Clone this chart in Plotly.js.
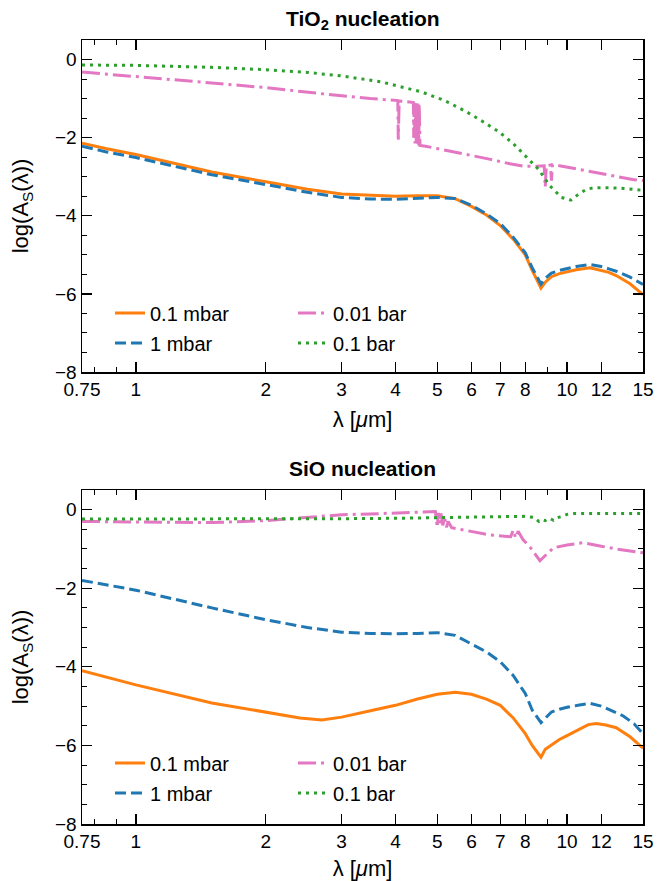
<!DOCTYPE html>
<html>
<head>
<meta charset="utf-8">
<script src="https://cdn.plot.ly/plotly-3.0.1.min.js"></script>
<style>html,body{margin:0;padding:0;background:#fff}</style>
</head>
<body>
<div id="chart" style="width:664px;height:881px"></div>
<script>
// ---------- DATA ----------
const seriesNames = ["0.1 mbar", "1 mbar", "0.01 bar", "0.1 bar"];
const xTickVals = [0.75, 1, 2, 3, 4, 5, 6, 7, 8, 10, 12, 15];
const xTickText = ["0.75", "1", "2", "3", "4", "5", "6", "7", "8", "10", "12", "15"];
const xMinorVals = [0.8, 0.9, 9];
const yTickVals = [-8, -6, -4, -2, 0];
const yTickText = ["\u22128", "\u22126", "\u22124", "\u22122", "0"];

// TiO2 nucleation
const tio2_01mbar_x = [0.75, 0.85, 1, 1.25, 1.5, 2, 2.5, 3, 3.5, 4, 4.5, 5, 5.5, 6, 6.5, 7, 7.5, 8, 8.3, 8.7, 8.9, 9.2, 9.6, 10, 10.5, 11.3, 12, 12.5, 13, 14, 15];
const tio2_01mbar_y = [-2.14, -2.28, -2.43, -2.68, -2.88, -3.13, -3.32, -3.44, -3.48, -3.5, -3.49, -3.49, -3.56, -3.76, -3.98, -4.25, -4.6, -5.0, -5.4, -5.85, -5.7, -5.56, -5.48, -5.43, -5.38, -5.33, -5.4, -5.45, -5.53, -5.74, -6.02];
const tio2_1mbar_x = [0.75, 0.85, 1, 1.25, 1.5, 2, 2.5, 3, 3.5, 4, 4.5, 5, 5.5, 6, 6.5, 7, 7.5, 8, 8.3, 8.7, 8.9, 9.2, 9.6, 10, 10.5, 11.3, 12, 12.5, 13, 14, 15];
const tio2_1mbar_y = [-2.22, -2.36, -2.51, -2.76, -2.95, -3.2, -3.4, -3.53, -3.57, -3.58, -3.56, -3.53, -3.56, -3.73, -3.95, -4.2, -4.55, -4.95, -5.33, -5.75, -5.6, -5.47, -5.4, -5.35, -5.3, -5.25, -5.3, -5.36, -5.42, -5.57, -5.76];
const tio2_001bar_x = [0.75, 1, 1.5, 2, 2.5, 3, 3.5, 4.0, 4.05, 4.06, 4.07, 4.08, 4.4, 4.41, 4.42, 4.44, 4.45, 4.47, 4.48, 4.5, 4.51, 4.53, 4.54, 4.56, 4.7, 5.2, 5.85, 6.6, 7.37, 7.92, 8.5, 8.85, 8.9, 8.95, 9.15, 9.2, 9.25, 9.6, 10.5, 11.7, 13, 14.2, 15];
const tio2_001bar_y = [-0.32, -0.43, -0.6, -0.72, -0.84, -0.93, -1.0, -1.04, -1.05, -2.05, -1.4, -1.06, -1.1, -2.0, -1.11, -2.15, -1.12, -2.1, -1.12, -2.18, -1.13, -2.2, -1.14, -2.2, -2.22, -2.32, -2.42, -2.55, -2.67, -2.73, -2.73, -2.72, -3.27, -2.72, -2.7, -3.1, -2.7, -2.72, -2.8, -2.9, -2.98, -3.07, -3.1];
const tio2_01bar_x = [0.75, 1, 1.5, 2, 2.5, 3, 3.7, 4.6, 5.2, 5.85, 6.4, 6.95, 7.5, 8.0, 8.6, 9.1, 9.7, 10.2, 10.6, 11.1, 11.6, 12.5, 13.5, 15];
const tio2_01bar_y = [-0.14, -0.15, -0.2, -0.26, -0.33, -0.42, -0.57, -0.83, -1.05, -1.34, -1.6, -1.85, -2.15, -2.47, -2.82, -3.22, -3.53, -3.6, -3.46, -3.32, -3.28, -3.28, -3.3, -3.35];

// SiO nucleation
const sio_01mbar_x = [0.75, 1, 1.5, 2, 2.4, 2.7, 3, 3.5, 4, 4.5, 5, 5.5, 6, 6.5, 7, 7.5, 8, 8.3, 8.7, 8.9, 9.2, 9.6, 10, 10.6, 11.2, 11.7, 12.3, 13, 14, 15];
const sio_01mbar_y = [-4.1, -4.46, -4.92, -5.15, -5.3, -5.35, -5.28, -5.12, -4.98, -4.82, -4.7, -4.65, -4.7, -4.82, -4.98, -5.3, -5.7, -6.0, -6.3, -6.1, -6.0, -5.85, -5.75, -5.6, -5.47, -5.44, -5.48, -5.55, -5.78, -6.07];
const sio_1mbar_x = [0.75, 1, 1.5, 2, 2.5, 3, 3.5, 4, 4.5, 5, 5.5, 6, 6.5, 7, 7.5, 8, 8.3, 8.7, 8.9, 9.2, 9.6, 10, 10.6, 11.3, 12, 12.6, 13.5, 14.3, 15];
const sio_1mbar_y = [-1.8, -2.05, -2.5, -2.8, -3.0, -3.12, -3.15, -3.16, -3.15, -3.13, -3.2, -3.42, -3.62, -3.87, -4.22, -4.68, -5.1, -5.42, -5.3, -5.15, -5.08, -5.03, -4.98, -4.93, -5.0, -5.1, -5.25, -5.45, -5.7];
const sio_001bar_x = [0.75, 1, 1.5, 2, 2.5, 3, 3.7, 4.5, 4.95, 5.0, 5.03, 5.06, 5.1, 5.15, 5.2, 5.25, 5.3, 5.4, 6.6, 7.4, 7.5, 7.6, 7.7, 7.9, 8.2, 8.65, 9.0, 9.3, 10, 10.9, 12, 13, 15];
const sio_001bar_y = [-0.3, -0.32, -0.33, -0.28, -0.2, -0.13, -0.1, -0.07, -0.05, -0.45, -0.08, -0.35, -0.1, -0.4, -0.2, -0.45, -0.3, -0.46, -0.64, -0.69, -0.52, -0.72, -0.55, -0.76, -0.95, -1.3, -1.12, -0.97, -0.9, -0.84, -0.93, -1.0, -1.1];
const sio_01bar_x = [0.75, 1, 2, 3, 4, 5, 6, 7, 8, 8.4, 8.6, 8.75, 8.9, 9.1, 9.3, 9.5, 9.7, 10.0, 10.4, 11, 12, 13, 15];
const sio_01bar_y = [-0.24, -0.24, -0.23, -0.23, -0.22, -0.2, -0.18, -0.17, -0.17, -0.2, -0.3, -0.25, -0.28, -0.22, -0.27, -0.2, -0.18, -0.12, -0.1, -0.1, -0.1, -0.1, -0.1];

// ---------- STYLES ----------
const FONT = "Liberation Sans, Arial, sans-serif";
const styles = [
  {color: "#ff7f0e", dash: "solid", width: 3},
  {color: "#1f77b4", dash: "11px,5px", width: 3},
  {color: "#e377c2", dash: "18px,5px,3px,5px", width: 3},
  {color: "#2ca02c", dash: "3px,5px", width: 3}
];
// plot area pixel geometry
const L = 82, R = 643, T = 40, B = 824;
const px = p => (p - L) / (R - L);
const py = p => (B - p) / (B - T);

const panels = [
  {xs: [tio2_01mbar_x, tio2_1mbar_x, tio2_001bar_x, tio2_01bar_x],
   ys: [tio2_01mbar_y, tio2_1mbar_y, tio2_001bar_y, tio2_01bar_y], xa: "x", ya: "y", legY: [313, 343]},
  {xs: [sio_01mbar_x, sio_1mbar_x, sio_001bar_x, sio_01bar_x],
   ys: [sio_01mbar_y, sio_1mbar_y, sio_001bar_y, sio_01bar_y], xa: "x2", ya: "y2", legY: [763, 793]}
];
// legend item pixel positions: [col x, row]
const legCols = [110, 293];
const legPos = [[0, 0], [0, 1], [1, 0], [1, 1]];

const traces = [];
const layout = {
  width: 664, height: 881,
  margin: {l: L, r: 664 - R, t: T, b: 881 - B},
  paper_bgcolor: "#fff", plot_bgcolor: "#fff",
  font: {family: FONT, size: 19, color: "#000"},
  showlegend: true,
  annotations: [
    {text: "<b>TiO<sub>2</sub> nucleation</b>", xref: "paper", yref: "paper", x: 0.5, y: py(20), xanchor: "center", yanchor: "middle", showarrow: false, font: {size: 21, family: FONT}},
    {text: "<b>SiO nucleation</b>", xref: "paper", yref: "paper", x: 0.5, y: py(469), xanchor: "center", yanchor: "middle", showarrow: false, font: {size: 21, family: FONT}}
  ]
};

let legIdx = 0;
panels.forEach((p, pi) => {
  for (let s = 0; s < 4; s++) {
    legIdx++;
    const lname = legIdx === 1 ? "legend" : "legend" + legIdx;
    traces.push({
      type: "scatter", mode: "lines",
      x: p.xs[s], y: p.ys[s], name: seriesNames[s],
      xaxis: p.xa, yaxis: p.ya, legend: lname,
      line: {color: styles[s].color, dash: styles[s].dash, width: styles[s].width}
    });
    const [c, r] = legPos[s];
    layout[lname] = {
      x: px(legCols[c]), y: py(p.legY[r]), xref: "paper", yref: "paper",
      xanchor: "left", yanchor: "middle", bgcolor: "rgba(0,0,0,0)",
      borderwidth: 0, font: {size: 20, family: FONT}, itemwidth: 30
    };
  }
});

function xaxis(anchor) {
  return {
    anchor: anchor, domain: [0, 1], type: "log",
    range: [Math.log10(0.75), Math.log10(15)],
    tickmode: "array", tickvals: xTickVals, ticktext: xTickText,
    ticks: "inside", ticklen: 10, tickwidth: 1.3, tickcolor: "#000",
    showline: true, linewidth: 1.5, linecolor: "#000", mirror: "allticks",
    showgrid: false, zeroline: false,
    tickfont: {size: 19, family: FONT},
    minor: {tickmode: "array", tickvals: xMinorVals, ticks: "inside", ticklen: 5, tickwidth: 1, tickcolor: "#000", showgrid: false},
    title: {text: "\u03bb [<i>\u03bc</i>m]", font: {size: 22, family: FONT}, standoff: 12}
  };
}
function yaxis(anchor, domain) {
  return {
    anchor: anchor, domain: domain, range: [-8, 0.5],
    tickmode: "array", tickvals: yTickVals, ticktext: yTickText,
    ticks: "inside", ticklen: 10, tickwidth: 1.3, tickcolor: "#000",
    showline: true, linewidth: 1.5, linecolor: "#000", mirror: "allticks",
    showgrid: false, zeroline: false,
    tickfont: {size: 19, family: FONT},
    minor: {dtick: 0.5, tick0: 0, ticks: "inside", ticklen: 5, tickwidth: 1, tickcolor: "#000", showgrid: false},
    title: {text: "log(A<sub>S</sub>(\u03bb))", font: {size: 22, family: FONT}, standoff: 20}
  };
}
layout.xaxis = xaxis("y");
layout.yaxis = yaxis("x", [py(372), 1]);
layout.xaxis2 = xaxis("y2");
layout.yaxis2 = yaxis("x2", [0, py(490)]);

Plotly.newPlot("chart", traces, layout, {displayModeBar: false, staticPlot: true});
</script>
</body>
</html>
